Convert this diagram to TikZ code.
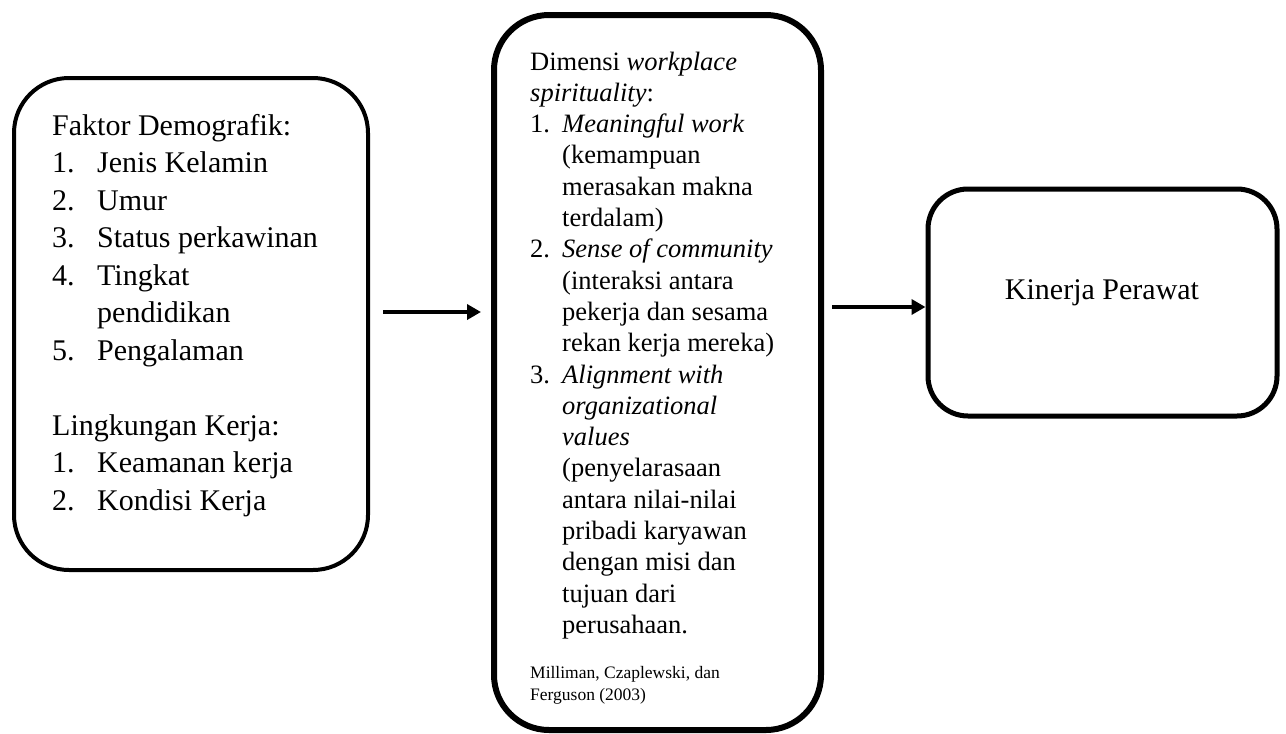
\documentclass[tikz,border=0pt]{standalone}
\usepackage{fontspec}
\setmainfont{Liberation Serif}
\usetikzlibrary{arrows.meta}
\begin{document}
\begin{tikzpicture}[x=1pt,y=-1pt,
  roundbox/.style={draw=black, fill=white, rounded corners=#1, inner sep=0pt},
  txt/.style={anchor=base west, inner sep=0pt},
  conn/.style={line width=4pt, -{Triangle[length=14pt,width=15pt]}}]
\useasboundingbox (0,0) rectangle (1286,734);
% boxes
\node[roundbox=55pt, line width=4pt, minimum width=354pt, minimum height=492pt] (left) at (191,324) {};
\node[roundbox=55pt, line width=6pt, minimum width=327pt, minimum height=715pt] (mid) at (657.5,372.5) {};
\node[roundbox=40pt, line width=5pt, minimum width=349pt, minimum height=227pt] (right) at (1102.5,302.5) {};
% left text
\node[txt] (lefttext) at (52,135) {\fontsize{30}{37.5}\selectfont
\begin{tabular}[t]{@{}p{45pt}@{}l@{}}
\multicolumn{2}{@{}l@{}}{Faktor Demografik:}\\
1. & Jenis Kelamin\\
2. & Umur\\
3. & Status perkawinan\\
4. & Tingkat\\
 & pendidikan\\
5. & Pengalaman\\
\multicolumn{2}{@{}l@{}}{}\\
\multicolumn{2}{@{}l@{}}{Lingkungan Kerja:}\\
1. & Keamanan kerja\\
2. & Kondisi Kerja
\end{tabular}};
% middle text
\node[txt] (midtext) at (530,70) {\fontsize{26.5}{31.3}\selectfont
\begin{tabular}[t]{@{}p{32pt}@{}l@{}}
\multicolumn{2}{@{}l@{}}{Dimensi \textit{workplace}}\\
\multicolumn{2}{@{}l@{}}{\textit{spirituality}:}\\
1. & \textit{Meaningful work}\\
 & (kemampuan\\
 & merasakan makna\\
 & terdalam)\\
2. & \textit{Sense of community}\\
 & (interaksi antara\\
 & pekerja dan sesama\\
 & rekan kerja mereka)\\
3. & \textit{Alignment with}\\
 & \textit{organizational}\\
 & \textit{values}\\
 & (penyelarasaan\\
 & antara nilai-nilai\\
 & pribadi karyawan\\
 & dengan misi dan\\
 & tujuan dari\\
 & perusahaan.
\end{tabular}};
\node[txt] (source) at (530,678) {\fontsize{17.5}{22}\selectfont
\begin{tabular}[t]{@{}l@{}}
Milliman, Czaplewski, dan\\
Ferguson (2003)
\end{tabular}};
% right text
\node[inner sep=0pt] (righttext) at (1102,293) {\fontsize{30}{36}\selectfont Kinerja Perawat};
% arrows
\coordinate (a1s) at (383,312);
\coordinate (a1e) at (481,312);
\coordinate (a2s) at (832,307);
\draw[conn] (a1s) -- (a1e);
\draw[conn] (a2s) -- (a2s -| right.west);
\end{tikzpicture}
\end{document}
